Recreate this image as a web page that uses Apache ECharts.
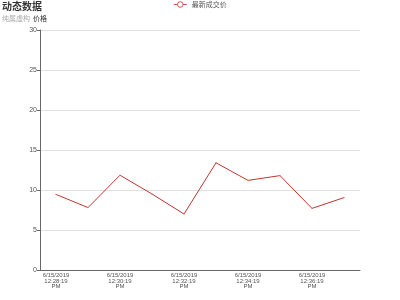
<!DOCTYPE html>
<html><head><meta charset="utf-8">
<script src="https://cdn.jsdelivr.net/npm/echarts@6/dist/echarts.min.js"></script>
<style>html,body{margin:0;padding:0;background:#fff}#c{width:400px;height:300px}</style>
</head><body><div id="c"></div>
<script>
var categories = [
  '6/15/2019\n12:28:19\nPM','6/15/2019\n12:29:19\nPM','6/15/2019\n12:30:19\nPM','6/15/2019\n12:31:19\nPM',
  '6/15/2019\n12:32:19\nPM','6/15/2019\n12:33:19\nPM','6/15/2019\n12:34:19\nPM','6/15/2019\n12:35:19\nPM',
  '6/15/2019\n12:36:19\nPM','6/15/2019\n12:37:19\nPM'
];
var priceValues = [9.45, 7.8, 11.85, 9.5, 7.0, 13.4, 11.2, 11.8, 7.7, 9.05];
var chart = echarts.init(document.getElementById('c'));
chart.setOption({
  animation: false,
  title: {
    text: '动态数据', subtext: '纯属虚构', left: 2, top: 1, padding: 0, itemGap: 4,
    textStyle: {fontSize: 10, fontWeight: 'bold', color: '#333', fontFamily: 'Noto Sans CJK SC'},
    subtextStyle: {fontSize: 7, color: '#aaa', fontFamily: 'Noto Sans CJK SC'}
  },
  legend: {
    data: ['最新成交价'], top: 1, left: 'center', padding: 0, itemWidth: 13, itemHeight: 7, itemGap: 4,
    itemStyle: {color: '#fff', borderColor: '#d05050', borderWidth: 1},
    lineStyle: {width: 1, color: '#d05050'},
    textStyle: {fontSize: 7, color: '#555', fontFamily: 'Noto Sans CJK SC'}
  },
  grid: {left: 40, right: 40, top: 30, bottom: 30, containLabel: false},
  xAxis: {
    type: 'category', boundaryGap: true, data: categories,
    axisLine: {lineStyle: {color: '#666'}},
    axisTick: {alignWithLabel: true, interval: function (i) { return i % 2 === 1; }, length: 3},
    axisLabel: {interval: 1, fontSize: 6, lineHeight: 5.5, color: '#555', margin: 3, fontFamily: 'Liberation Sans'}
  },
  yAxis: {
    type: 'value', name: '价格', min: 0, max: 30, interval: 5,
    nameGap: 8, nameTextStyle: {fontSize: 7, color: '#333', fontFamily: 'Noto Sans CJK SC'},
    axisLine: {show: true, lineStyle: {color: '#666'}},
    axisTick: {show: true, length: 3},
    axisLabel: {fontSize: 7, color: '#555', margin: 3, fontFamily: 'Liberation Sans'},
    splitLine: {lineStyle: {color: '#e0e0e0'}}
  },
  series: [{
    name: '最新成交价', type: 'line', data: priceValues,
    symbol: 'circle', symbolSize: 1.5, showSymbol: true,
    itemStyle: {color: '#e08080'}, lineStyle: {width: 1, color: '#c23531'}
  }]
});
</script></body></html>
